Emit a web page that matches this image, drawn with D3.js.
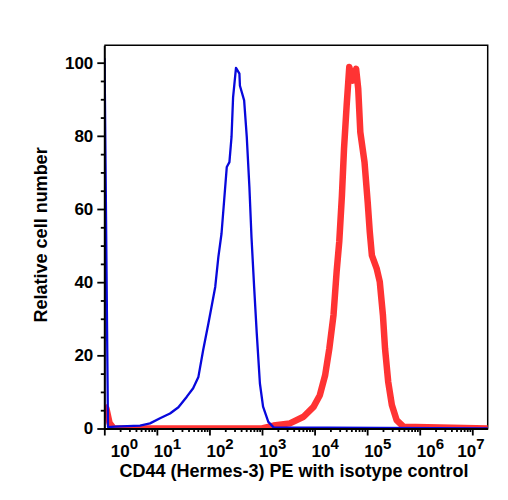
<!DOCTYPE html>
<html>
<head>
<meta charset="utf-8">
<script src="https://cdn.jsdelivr.net/npm/d3@7"></script>
<style>
  body { margin: 0; background: #fff; }
  svg text { font-family: "Liberation Sans", Arial, Helvetica, sans-serif; font-weight: bold; fill: #000; }
</style>
</head>
<body>
<div id="histogram"></div>
<script>
// isotype control (blue): log10 PE intensity / relative cell number
const isoLog   = [0, 0.005, 0.07, 0.2, 0.68, 0.87, 1.06, 1.25, 1.41, 1.57, 1.69, 1.79, 1.88, 1.98, 2.04, 2.11, 2.17, 2.23, 2.28, 2.33, 2.38, 2.42, 2.45, 2.505, 2.57, 2.58, 2.66, 2.71, 2.76, 2.8, 2.85, 2.9, 2.96, 3.02, 3.12, 3.22, 7.3]
const isoCount = [0, 101, 0.4, 0.5, 0.8, 1.4, 2.8, 4.1, 5.8, 8.7, 11, 14.1, 21.4, 28.7, 33.3, 38.7, 46.9, 53.3, 62.4, 71.5, 72.8, 79.7, 90.6, 98.6, 97, 93.7, 89.7, 79.7, 66, 52.3, 38.7, 26, 12.3, 6, 1.8, 0.3, 0]

// CD44 (Hermes-3) PE stained (red)
const cd44Log   = [0, 0.04, 0.1, 0.18, 3.0, 3.22, 3.53, 3.79, 3.98, 4.1, 4.2, 4.28, 4.36, 4.42, 4.47, 4.52, 4.56, 4.61, 4.66, 4.725, 4.79, 4.83, 4.87, 4.95, 5.01, 5.05, 5.09, 5.18, 5.24, 5.3, 5.34, 5.4, 5.47, 5.56, 5.69, 7.3]
const cd44Count = [6, 5.5, 1.5, 0, 0, 0.8, 1.4, 3.2, 5.9, 9.1, 14.5, 21.8, 31, 43, 51.2, 63.7, 76.5, 88.3, 98.8, 95.1, 98.3, 92.9, 81, 72.8, 61.9, 53.7, 47.3, 43.8, 40.1, 31, 21.9, 12.8, 6.4, 2.3, 0.5, 0]

const yTicks = [0, 20, 40, 60, 80, 100]
const decades = [0, 1, 2, 3, 4, 5, 6, 7]

const width = 508
const height = 500
const margin = {top: 45.3, right: 20.3, bottom: 71.5, left: 104.3}
const chartWidth = width - margin.left - margin.right
const chartHeight = height - margin.top - margin.bottom

const x = d3.scaleLog()
  .domain([1, Math.pow(10, 7.293)])
  .range([0, chartWidth])

const y = d3.scaleLinear()
  .domain([0, 104.75])
  .range([chartHeight, 0])

const line = d3.line()
  .x(d => x(Math.pow(10, d[0])))
  .y(d => y(d[1]))

const svg = d3.select('#histogram').append('svg')
  .attr('width', width)
  .attr('height', height)

const g = svg.append('g')
  .attr('transform', `translate(${margin.left}, ${margin.top})`)

g.append('clipPath').attr('id', 'plot-clip')
  .append('rect')
  .attr('width', chartWidth)
  .attr('height', chartHeight)

// frame top + right
g.append('path')
  .attr('d', `M0,0H${chartWidth}V${chartHeight}`)
  .attr('fill', 'none')
  .attr('stroke', '#000')
  .attr('stroke-width', 1.5)

const curves = g.append('g').attr('clip-path', 'url(#plot-clip)')

curves.append('path')
  .datum(d3.zip(cd44Log, cd44Count))
  .attr('d', line)
  .attr('fill', 'none')
  .attr('stroke', '#ff3333')
  .attr('stroke-width', 6.5)
  .attr('stroke-linejoin', 'round')

curves.append('path')
  .datum(d3.zip(isoLog, isoCount))
  .attr('d', line)
  .attr('fill', 'none')
  .attr('stroke', '#0808dc')
  .attr('stroke-width', 2.3)
  .attr('stroke-linejoin', 'round')

// y axis: minor every 5, major every 20
const yMinor = g.append('g').attr('class', 'yminor')
  .call(d3.axisLeft(y)
    .tickValues(d3.range(5, 101, 5).filter(v => v % 20 != 0))
    .tickSize(3.5).tickSizeOuter(0).tickFormat(''))
yMinor.select('.domain').remove()

const yAxis = g.append('g').attr('class', 'yaxis')
  .call(d3.axisLeft(y).tickValues(yTicks).tickSize(7).tickSizeOuter(0).tickPadding(4))
yAxis.select('.domain').attr('stroke-width', 2)
yAxis.selectAll('.tick text').style('font-size', '17px')

// x axis: log minor ticks + decade ticks with 10^n labels
const xMinor = g.append('g').attr('class', 'xminor')
  .attr('transform', `translate(0, ${chartHeight})`)
  .call(d3.axisBottom(x)
    .tickValues(x.ticks().filter(v => !decades.includes(Math.round(Math.log10(v) * 1000) / 1000)))
    .tickSize(3.5).tickSizeOuter(0).tickFormat(''))
xMinor.select('.domain').remove()

const xAxis = g.append('g').attr('class', 'xaxis')
  .attr('transform', `translate(0, ${chartHeight})`)
  .call(d3.axisBottom(x).tickValues(decades.map(e => Math.pow(10, e)))
    .tickSize(7).tickSizeOuter(0).tickFormat(''))
xAxis.select('.domain').attr('stroke-width', 2)

g.selectAll('.tick line').attr('stroke-width', 1.8)

const last = decades.length - 1
const lab = xAxis.selectAll('.tick').append('text')
  .attr('x', (d, i) => i == 0 ? 6 : i == last ? -15.5 : -3.5)
  .attr('y', 28)
  .attr('text-anchor', 'start')
  .style('font-size', '17px')
lab.append('tspan').text('10')
lab.append('tspan')
  .attr('dy', -8)
  .style('font-size', '15px')
  .text(d => Math.round(Math.log10(d)))

// axis titles
svg.append('text')
  .attr('x', margin.left + chartWidth / 2 - 2)
  .attr('y', 477)
  .attr('text-anchor', 'middle')
  .style('font-size', '18px')
  .text('CD44 (Hermes-3) PE with isotype control')

svg.append('text')
  .attr('transform', `translate(46.5, ${margin.top + chartHeight / 2 - 2}) rotate(-90)`)
  .attr('text-anchor', 'middle')
  .style('font-size', '18px')
  .text('Relative cell number')
</script>
</body>
</html>
